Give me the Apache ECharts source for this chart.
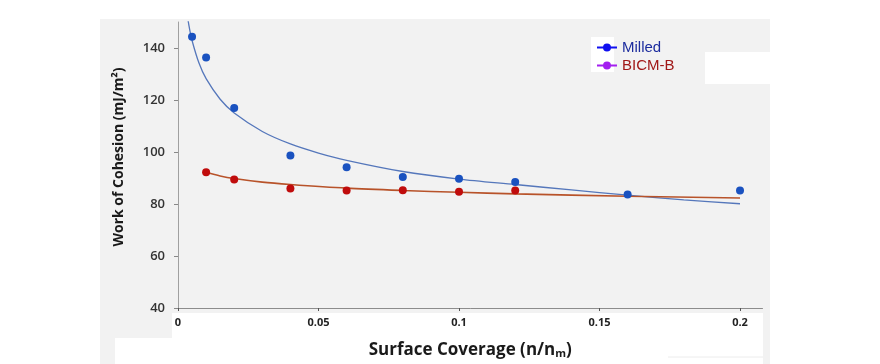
<!DOCTYPE html>
<html>
<head>
<meta charset="utf-8">
<script src="https://cdn.jsdelivr.net/npm/echarts@6/dist/echarts.min.js"></script>
<style>html,body{margin:0;padding:0;background:#fff}#c{width:880px;height:364px}</style>
</head>
<body>
<div id="c"></div>
<script>
// ---- data ----
var milledX = [0.005, 0.01, 0.02, 0.04, 0.06, 0.08, 0.10, 0.12, 0.16, 0.20];
var milledY = [144.3, 136.3, 116.9, 98.7, 94.1, 90.4, 89.7, 88.5, 83.7, 85.2];
var bicmX = [0.01, 0.02, 0.04, 0.06, 0.08, 0.10, 0.12];
var bicmY = [92.2, 89.4, 86.0, 85.2, 85.3, 84.7, 85.2];
// trend lines
var milledFitX = [0.0033, 0.004, 0.005, 0.0075, 0.01, 0.015, 0.02, 0.03, 0.04, 0.05, 0.06, 0.08, 0.10, 0.12, 0.14, 0.16, 0.18, 0.20];
var milledFitY = [152.6, 148.0, 142.9, 134.1, 128.2, 120.3, 115.0, 107.9, 103.1, 99.6, 96.8, 92.5, 89.6, 87.5, 85.4, 83.4, 81.6, 80.1];
var bicmFitX = [0.01, 0.015, 0.02, 0.03, 0.04, 0.06, 0.08, 0.10, 0.12, 0.16, 0.20];
var bicmFitY = [92.2, 90.8, 89.8, 88.4, 87.5, 86.1, 85.2, 84.5, 83.9, 83.0, 82.3];
var seriesNames = ['Milled', 'BICM-B'];
var xAxisTitle = 'Surface Coverage (n/n';
var xAxisSub = 'm';
var yAxisTitle = 'Work of Cohesion (mJ/m²)';

function pairs(xs, ys) { return xs.map(function (x, i) { return [x, ys[i]]; }); }

var legendIcon = 'path://M0,4 L6.5,4 L6.5,6 L0,6 Z M13.5,4 L20,4 L20,6 L13.5,6 Z M6,5 A4,4 0 1,1 14,5 A4,4 0 1,1 6,5 Z';

var chart = echarts.init(document.getElementById('c'));
chart.setOption({
  backgroundColor: '#ffffff',
  animation: false,
  graphic: [
    { type: 'rect', z: -10, shape: { x: 100, y: 19, width: 670, height: 345 }, style: { fill: '#f2f2f2' } },
    { type: 'rect', z: -9, shape: { x: 172, y: 313, width: 591, height: 51 }, style: { fill: '#ffffff' } },
    { type: 'rect', z: -9, shape: { x: 115, y: 338, width: 60, height: 26 }, style: { fill: '#ffffff' } },
    { type: 'rect', z: -9, shape: { x: 705, y: 52, width: 65, height: 32 }, style: { fill: '#ffffff' } },
    { type: 'rect', z: -9, shape: { x: 591, y: 37, width: 23, height: 35 }, style: { fill: '#ffffff' } },
    { type: 'line', z: -8, shape: { x1: 668, y1: 357, x2: 763, y2: 357 }, style: { stroke: '#ececec', lineWidth: 1 } },
    {
      type: 'text', z: 5, x: 119, y: 157, rotation: Math.PI / 2,
      style: {
        text: yAxisTitle, fill: '#1a1a1a', align: 'center', verticalAlign: 'middle',
        font: 'bold 14px "Open Sans"'
      }
    }
  ],
  grid: { left: 178, width: 584.5, top: 22, bottom: 55, containLabel: false },
  legend: {
    orient: 'vertical',
    left: 592,
    top: 35,
    itemWidth: 20,
    itemHeight: 10,
    itemGap: 3,
    textStyle: { fontFamily: 'Liberation Sans', fontSize: 15 },
    data: [
      { name: seriesNames[0], icon: legendIcon, itemStyle: { color: '#1010f0', opacity: 1 }, textStyle: { color: '#1c2c9e' } },
      { name: seriesNames[1], icon: legendIcon, itemStyle: { color: '#a31ff0', opacity: 1 }, textStyle: { color: '#a01818' } }
    ]
  },
  xAxis: {
    type: 'value',
    min: 0,
    max: 0.208,
    interval: 0.05,
    name: xAxisTitle + '{s|' + xAxisSub + '}{p|)}',
    nameLocation: 'middle',
    nameGap: 33,
    nameTextStyle: {
      fontFamily: 'Open Sans', fontWeight: 'bold', fontSize: 17, color: '#1a1a1a',
      rich: {
        s: { fontFamily: 'Open Sans', fontWeight: 'bold', fontSize: 11, color: '#1a1a1a', verticalAlign: 'bottom', padding: [7, 0, 0, 0] },
        p: { fontFamily: 'Open Sans', fontWeight: 'bold', fontSize: 17, color: '#1a1a1a' }
      }
    },
    splitLine: { show: false },
    axisLine: { lineStyle: { color: '#8c8c8c', width: 1 } },
    axisTick: { show: true, length: 3, lineStyle: { color: '#555' } },
    axisLabel: {
      showMaxLabel: false,
      margin: 9,
      fontFamily: 'Open Sans', fontWeight: 'bold', fontSize: 11, color: '#222',
      formatter: function (v) { return String(Math.round(v * 100) / 100); }
    }
  },
  yAxis: {
    type: 'value',
    min: 40,
    max: 150,
    interval: 20,
    splitLine: { show: false },
    axisLine: { show: true, lineStyle: { color: '#a0a0a0', width: 1 } },
    axisTick: { show: true, length: 4, lineStyle: { color: '#888' } },
    axisLabel: { showMaxLabel: false, margin: 13, fontFamily: 'Open Sans', fontSize: 13, fontWeight: 600, color: '#333' }
  },
  series: [
    {
      name: 'Milled fit', type: 'line', smooth: 0.3, showSymbol: false, silent: true,
      data: pairs(milledFitX, milledFitY),
      lineStyle: { color: '#5577bb', width: 1.3 }, z: 2
    },
    {
      name: 'BICM-B fit', type: 'line', smooth: 0.3, showSymbol: false, silent: true,
      data: pairs(bicmFitX, bicmFitY),
      lineStyle: { color: '#b8532a', width: 1.6 }, z: 2
    },
    {
      name: seriesNames[0], type: 'scatter', symbol: 'circle', symbolSize: 8,
      data: pairs(milledX, milledY),
      itemStyle: { color: '#1a52c0', opacity: 1 }, z: 3
    },
    {
      name: seriesNames[1], type: 'scatter', symbol: 'circle', symbolSize: 8,
      data: pairs(bicmX, bicmY),
      itemStyle: { color: '#c00c0c', opacity: 1 }, z: 3
    }
  ]
});
</script>
</body>
</html>
